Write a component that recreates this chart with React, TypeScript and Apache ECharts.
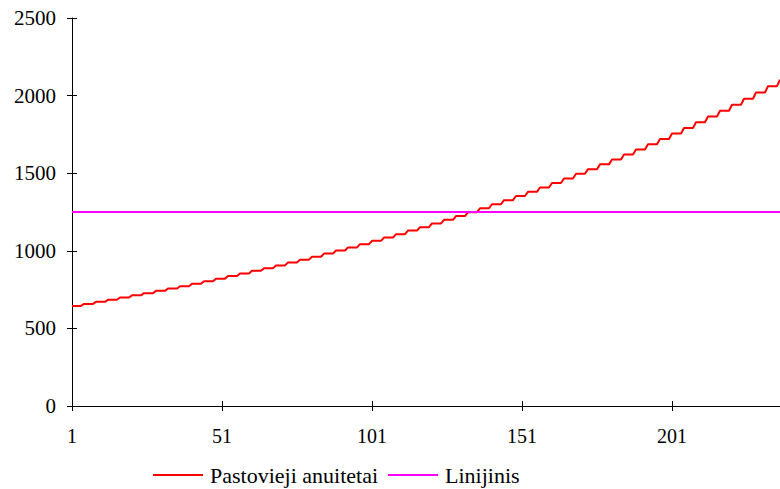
import React, { useEffect, useRef } from "react";
import * as echarts from "echarts";

// Step levels of "Pastovieji anuitetai", each held for STEP_LEN periods
const annuityLevels: number[] = [
  645, 658, 671, 685, 699, 713, 727, 742, 757, 772,
  788, 804, 820, 837, 854, 871, 888, 906, 925, 943,
  962, 982, 1002, 1022, 1043, 1064, 1085, 1107, 1130, 1152,
  1176, 1200, 1224, 1249, 1274, 1300, 1326, 1353, 1380, 1408,
  1437, 1466, 1496, 1526, 1557, 1588, 1620, 1653, 1687, 1721,
  1756, 1791, 1828, 1865, 1902, 1941, 1980, 2020, 2061, 2103,
];
const STEP_LEN = 4;
const PERIODS = 237;
const linijinisValue = 1250;
const yTicks = [0, 500, 1000, 1500, 2000, 2500];

const categories: string[] = [];
for (let i = 1; i <= PERIODS; i++) categories.push(String(i));
const annuity: number[] = [];
for (let i = 0; i < PERIODS; i++) annuity.push(annuityLevels[Math.floor(i / STEP_LEN)]);
const linijinis: number[] = categories.map(() => linijinisValue);

const FONT = "Liberation Serif";

export default function App() {
  const ref = useRef<HTMLDivElement>(null);
  useEffect(() => {
    if (!ref.current) return;
    const chart = echarts.init(ref.current, undefined, { renderer: "svg" });
    chart.setOption({
      animation: false,
      backgroundColor: "#ffffff",
      textStyle: { fontFamily: FONT },
      grid: { left: 72, right: 0, top: 18, bottom: 83, containLabel: false },
      legend: {
        left: 148,
        top: 459,
        icon: "rect",
        itemWidth: 50,
        itemHeight: 2,
        itemGap: 10,
        textStyle: { fontFamily: FONT, fontSize: 22, color: "#000", padding: [0, 0, 0, 2] },
        data: ["Pastovieji anuitetai", "Linijinis"],
      },
      xAxis: [
        {
          type: "category",
          data: categories,
          boundaryGap: false,
          axisLine: { lineStyle: { color: "#000", width: 1 } },
          axisTick: { interval: 49, length: 5, lineStyle: { color: "#000" } },
          axisLabel: { interval: 49, margin: 20, fontFamily: FONT, fontSize: 20, color: "#000" },
          splitLine: { show: false },
        },
        {
          type: "category",
          data: categories,
          boundaryGap: false,
          position: "bottom",
          axisLine: { show: false },
          axisTick: { inside: true, interval: 49, length: 5, lineStyle: { color: "#000" } },
          axisLabel: { show: false },
          splitLine: { show: false },
        },
      ],
      yAxis: [
        {
          type: "value",
          min: yTicks[0],
          max: yTicks[yTicks.length - 1],
          interval: 500,
          axisLine: { show: true, lineStyle: { color: "#000", width: 1 } },
          axisTick: { show: true, length: 5, lineStyle: { color: "#000" } },
          axisLabel: {
            margin: 16,
            fontFamily: FONT,
            fontSize: 21,
            color: "#000",
            formatter: (v: number) => String(v),
          },
          splitLine: { show: false },
        },
        {
          type: "value",
          min: yTicks[0],
          max: yTicks[yTicks.length - 1],
          interval: 500,
          position: "left",
          axisLine: { show: false },
          axisTick: { show: true, inside: true, length: 5, lineStyle: { color: "#000" } },
          axisLabel: { show: false },
          splitLine: { show: false },
        },
      ],
      series: [
        {
          name: "Pastovieji anuitetai",
          type: "line",
          data: annuity,
          showSymbol: false,
          symbol: "none",
          lineStyle: { color: "#ff0000", width: 2 },
          itemStyle: { color: "#ff0000" },
        },
        {
          name: "Linijinis",
          type: "line",
          data: linijinis,
          showSymbol: false,
          symbol: "none",
          lineStyle: { color: "#ff00ff", width: 2 },
          itemStyle: { color: "#ff00ff" },
        },
      ],
    });
    return () => chart.dispose();
  }, []);
  return (
    <div
      ref={ref}
      style={{ position: "fixed", left: 0, top: 0, width: 780, height: 489 }}
    />
  );
}
